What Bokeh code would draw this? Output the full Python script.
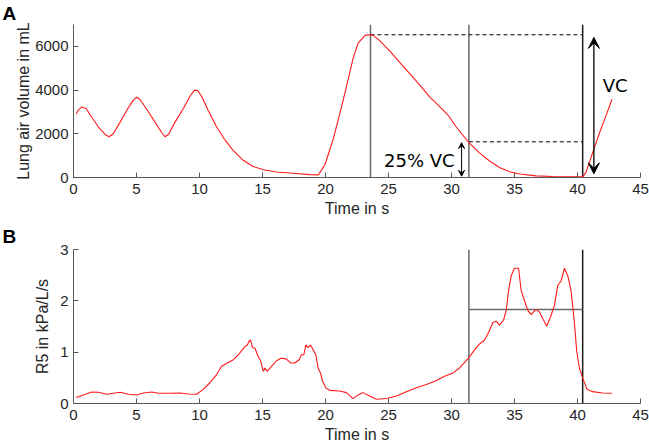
from bokeh.plotting import figure
from bokeh.layouts import column
from bokeh.models import Range1d, FixedTicker, Label, Arrow, VeeHead
from bokeh.embed import file_html
from bokeh.resources import INLINE

# ---- Panel A: lung air volume (mL) vs time (s)
vol_t = [0.21, 0.40, 0.66, 1.00, 1.45, 1.98, 2.51, 2.83, 3.17, 3.70, 4.36, 4.75, 5.02, 5.28,
         5.81, 6.47, 7.00, 7.26, 7.53, 8.06, 8.72, 9.24, 9.59, 9.83, 10.17, 10.70, 11.36,
         12.02, 12.68, 13.47, 14.26, 15.06, 16.11, 17.43, 18.75, 19.44, 19.97, 20.63, 21.42,
         22.21, 22.60, 23.14, 23.57, 23.78, 24.30, 25.09, 25.89, 26.68, 27.47, 28.26, 29.06,
         29.72, 30.38, 31.35, 32.22, 33.02, 33.81, 34.60, 35.40, 36.72, 38.04, 39.62, 40.41,
         40.67, 41.20, 41.73, 42.26, 42.73]
vol_ml = [2903, 3095, 3229, 3155, 2755, 2310, 1970, 1866, 2014, 2533, 3199, 3540, 3673, 3569,
          3125, 2533, 2059, 1866, 1970, 2533, 3155, 3717, 3984, 3984, 3717, 3051, 2310,
          1718, 1229, 785, 504, 355, 252, 193, 133, 119, 608, 1793, 3570,
          5496, 6163, 6504, 6530, 6502, 6265, 5791, 5272, 4754, 4236, 3688, 3243,
          2858, 2310, 1614, 1126, 755, 459, 267, 163, 74, 44, 30, 30,
          237, 1126, 2014, 2829, 3569]

# ---- Panel B: R5 (kPa/L/s) vs time (s)
r5_t = [0.21, 0.79, 1.45, 1.98, 2.64, 3.30, 3.70, 4.36, 5.02, 5.55, 6.21, 6.73, 7.66, 8.45,
        9.11, 9.77, 10.30, 10.83, 11.36, 11.75, 12.28, 12.68, 13.07, 13.34, 13.60, 13.79,
        13.95, 14.05, 14.21, 14.40, 14.66, 14.85, 15.06, 15.19, 15.37, 15.72, 16.11, 16.51,
        16.90, 17.25, 17.56, 17.91, 18.09, 18.28, 18.44, 18.62, 18.81, 19.02, 19.23, 19.41,
        19.60, 19.76, 20.02, 20.34, 21.13, 21.66, 22.19, 22.59, 22.98, 23.51, 24.04, 24.83,
        25.63, 26.42, 27.21, 28.00, 28.80, 29.45, 30.12, 30.64, 31.35, 31.83, 32.23, 32.62,
        32.97, 33.28, 33.55, 33.81, 34.13, 34.34, 34.55, 34.74, 35.00, 35.32, 35.53, 35.79,
        36.06, 36.32, 36.50, 36.72, 36.98, 37.24, 37.56, 37.85, 38.17, 38.43, 38.70, 38.96,
        39.23, 39.49, 39.75, 39.94, 40.15, 40.41, 40.76, 41.20, 42.00, 42.74]
r5_val = [0.115, 0.167, 0.224, 0.218, 0.180, 0.205, 0.218, 0.180, 0.167, 0.205, 0.224, 0.199,
          0.199, 0.205, 0.186, 0.180, 0.276, 0.404, 0.564, 0.724, 0.800, 0.853, 0.949, 1.026,
          1.109, 1.141, 1.218, 1.237, 1.090, 1.077, 0.917, 0.833, 0.628, 0.692, 0.628, 0.724,
          0.833, 0.885, 0.865, 0.788, 0.788, 0.853, 0.949, 0.949, 1.141, 1.090, 1.141, 1.045,
          0.949, 0.692, 0.596, 0.436, 0.308, 0.256, 0.244, 0.212, 0.096, 0.167, 0.212, 0.147,
          0.083, 0.096, 0.147, 0.231, 0.308, 0.372, 0.449, 0.532, 0.596, 0.692, 0.885, 1.045,
          1.160, 1.237, 1.397, 1.577, 1.603, 1.526, 1.622, 1.814, 2.231, 2.487, 2.635, 2.635,
          2.199, 2.006, 1.814, 1.731, 1.782, 1.833, 1.782, 1.654, 1.506, 1.686, 1.910, 2.295,
          2.391, 2.635, 2.487, 2.199, 1.590, 1.013, 0.692, 0.500, 0.276, 0.231, 0.205, 0.199]

# ---- markers
t_peak = 23.57     # time of maximal inspiration
t_25 = 31.38       # time at 25 % VC
t_end = 40.41      # end of expiration
vc = 6530          # vital capacity, mL
r5_mean = 1.83     # mean R5 between t_25 and t_end

x_ticks = [0, 5, 10, 15, 20, 25, 30, 35, 40, 45]
vol_ticks = [0, 2000, 4000, 6000]
r5_ticks = [0, 1, 2, 3]

RED = "#ff1a1a"
GREY = "#6a6a6a"
DARK = "#1a1a1a"
TXT = "#262626"
AX = "#555555"
FONT = "Liberation Sans"


def style(p, yticks, ylabel, panel, title_standoff):
    p.xgrid.visible = False
    p.ygrid.visible = False
    p.outline_line_color = None
    p.background_fill_color = "white"
    p.border_fill_color = "white"
    p.xaxis.ticker = FixedTicker(ticks=x_ticks)
    p.yaxis.ticker = FixedTicker(ticks=yticks)
    p.xaxis.axis_label = "Time in s"
    p.yaxis.axis_label = ylabel
    for ax in (p.xaxis, p.yaxis):
        ax.axis_line_color = AX
        ax.axis_line_width = 1
        ax.major_tick_line_color = AX
        ax.major_tick_in = 5
        ax.major_tick_out = 0
        ax.minor_tick_line_color = None
        ax.major_label_text_font = FONT
        ax.major_label_text_font_size = "15px"
        ax.major_label_text_color = TXT
        ax.axis_label_text_font = FONT
        ax.axis_label_text_font_size = "16px"
        ax.axis_label_text_font_style = "normal"
        ax.axis_label_text_color = TXT
    p.xaxis.major_label_standoff = 6
    p.xaxis.axis_label_standoff = 3
    p.yaxis.major_label_standoff = 5
    # panel letter
    p.title.text = panel
    p.title.align = "left"
    p.title.offset = -71
    p.title.standoff = title_standoff
    p.title.text_font = FONT
    p.title.text_font_size = "19px"
    p.title.text_font_style = "bold"
    p.title.text_color = "black"


# ---------------- Panel A
p1 = figure(width=649, height=221, x_range=Range1d(0, 45), y_range=Range1d(0, 7000),
            output_backend="svg", toolbar_location=None,
            min_border_left=73, min_border_right=9, min_border_top=20, min_border_bottom=44)
style(p1, vol_ticks, "Lung air volume in mL", "A", 1)
p1.yaxis.axis_label_standoff = 0

p1.segment(x0=[t_peak, t_25], y0=[0, 0], x1=[t_peak, t_25], y1=[7000, 7000],
           line_color=GREY, line_width=1.5)
p1.segment(x0=[t_end], y0=[0], x1=[t_end], y1=[7000], line_color=DARK, line_width=1.5)
p1.segment(x0=[t_peak, t_25], y0=[vc, 0.25 * vc], x1=[t_end, t_end], y1=[vc, 0.25 * vc],
           line_color="black", line_width=1, line_dash="4 3")
p1.line(vol_t, vol_ml, line_color=RED, line_width=1.1)

p1.add_layout(Arrow(x_start=41.3, y_start=vc / 2, x_end=41.3, y_end=vc - 120,
                    end=VeeHead(size=11, fill_color="black", line_color="black"),
                    line_color="black", line_width=1.3))
p1.add_layout(Arrow(x_start=41.3, y_start=vc / 2, x_end=41.3, y_end=170,
                    end=VeeHead(size=11, fill_color="black", line_color="black"),
                    line_color="black", line_width=1.3))
p1.add_layout(Arrow(x_start=30.8, y_start=0.125 * vc, x_end=30.8, y_end=0.25 * vc - 40,
                    end=VeeHead(size=6, fill_color="black", line_color="black"),
                    line_color="black", line_width=1))
p1.add_layout(Arrow(x_start=30.8, y_start=0.125 * vc, x_end=30.8, y_end=60,
                    end=VeeHead(size=6, fill_color="black", line_color="black"),
                    line_color="black", line_width=1))
p1.add_layout(Label(x=42.0, y=4220, text="VC", text_align="left", text_baseline="middle",
                    text_font="DejaVu Sans", text_font_size="18px", text_color="black"))
p1.add_layout(Label(x=30.25, y=800, text="25% VC", text_align="right", text_baseline="middle",
                    text_font="DejaVu Sans", text_font_size="18px", text_color="black"))

# ---------------- Panel B
p2 = figure(width=649, height=225, x_range=Range1d(0, 45), y_range=Range1d(0, 3),
            output_backend="svg", toolbar_location=None,
            min_border_left=73, min_border_right=9, min_border_top=26, min_border_bottom=43)
style(p2, r5_ticks, "R5 in kPa/L/s", "B", 5)
p2.yaxis.axis_label_standoff = 6

p2.segment(x0=[t_25], y0=[0], x1=[t_25], y1=[3], line_color=GREY, line_width=1.5)
p2.segment(x0=[t_end], y0=[0], x1=[t_end], y1=[3], line_color=DARK, line_width=1.5)
p2.segment(x0=[t_25], y0=[r5_mean], x1=[t_end], y1=[r5_mean], line_color=GREY, line_width=1.5)
p2.line(r5_t, r5_val, line_color=RED, line_width=1.1)

layout = column(p1, p2, spacing=0)
open("out.html", "w").write(file_html(layout, INLINE))
